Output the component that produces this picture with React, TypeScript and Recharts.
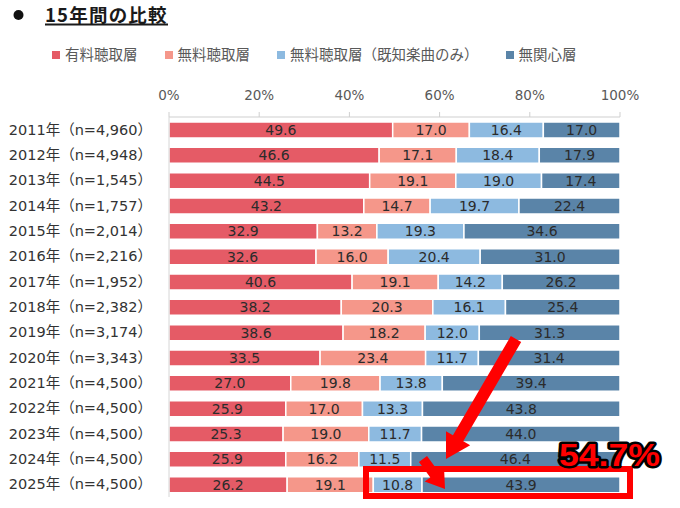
import React from 'react';
import { BarChart, Bar, XAxis, YAxis, LabelList } from 'recharts';

const years = ['2011年', '2012年', '2013年', '2014年', '2015年', '2016年', '2017年', '2018年', '2019年', '2020年', '2021年', '2022年', '2023年', '2024年', '2025年'];
const sampleSizes = ['4,960', '4,948', '1,545', '1,757', '2,014', '2,216', '1,952', '2,382', '3,174', '3,343', '4,500', '4,500', '4,500', '4,500', '4,500'];
const paidListeners = [49.6, 46.6, 44.5, 43.2, 32.9, 32.6, 40.6, 38.2, 38.6, 33.5, 27.0, 25.9, 25.3, 25.9, 26.2];
const freeListeners = [17.0, 17.1, 19.1, 14.7, 13.2, 16.0, 19.1, 20.3, 18.2, 23.4, 19.8, 17.0, 19.0, 16.2, 19.1];
const freeKnownOnly = [16.4, 18.4, 19.0, 19.7, 19.3, 20.4, 14.2, 16.1, 12.0, 11.7, 13.8, 13.3, 11.7, 11.5, 10.8];
const uninterested = [17.0, 17.9, 17.4, 22.4, 34.6, 31.0, 26.2, 25.4, 31.3, 31.4, 39.4, 43.8, 44.0, 46.4, 43.9];

const seriesKeys = ['s0', 's1', 's2', 's3'];
const seriesNames = ['有料聴取層', '無料聴取層', '無料聴取層（既知楽曲のみ）', '無関心層'];
const seriesColors = ['#E55B66', '#F5978A', '#8DBAE0', '#5A84A8'];
const seriesValues = [paidListeners, freeListeners, freeKnownOnly, uninterested];
const xTicks = [0, 20, 40, 60, 80, 100];

const titleText = '15年間の比較';
const calloutText = '54.7%';

const data = years.map((y, i) => {
  const row: Record<string, string | number> = { label: `${y}（n=${sampleSizes[i]}）` };
  seriesKeys.forEach((k, j) => {
    row[k] = seriesValues[j][i];
  });
  return row;
});

const FONT = "'DejaVu Sans', 'Noto Sans CJK JP', sans-serif";
const CJK = "'Noto Sans CJK JP', 'DejaVu Sans', sans-serif";

function arrowPoints(sx: number, sy: number, tx: number, ty: number, shaftHalf: number, headHalf: number, headLen: number) {
  const dx = tx - sx;
  const dy = ty - sy;
  const len = Math.sqrt(dx * dx + dy * dy);
  const ux = dx / len;
  const uy = dy / len;
  const nx = -uy;
  const ny = ux;
  const bx = tx - ux * headLen;
  const by = ty - uy * headLen;
  const pts = [
    [sx + nx * shaftHalf, sy + ny * shaftHalf],
    [bx + nx * shaftHalf, by + ny * shaftHalf],
    [bx + nx * headHalf, by + ny * headHalf],
    [tx, ty],
    [bx - nx * headHalf, by - ny * headHalf],
    [bx - nx * shaftHalf, by - ny * shaftHalf],
    [sx - nx * shaftHalf, sy - ny * shaftHalf],
  ];
  return pts.map((p) => p.join(',')).join(' ');
}

export default function App() {
  return (
    <div style={{ position: 'absolute', left: 0, top: 0, width: 680, height: 508, background: '#fff', overflow: 'hidden' }}>
      <BarChart
        width={680}
        height={508}
        data={data}
        layout="vertical"
        margin={{ top: 87, right: 60, bottom: 11, left: 0 }}
        barSize={16}
        style={{ fontFamily: FONT }}
      >
        <XAxis
          type="number"
          orientation="top"
          domain={[0, 100]}
          allowDataOverflow
          ticks={xTicks}
          tickFormatter={(v) => `${v}%`}
          height={30}
          axisLine={{ stroke: '#cfcfcf' }}
          tickLine={{ stroke: '#cfcfcf' }}
          tickSize={5}
          tickMargin={12}
          tick={{ fill: '#595959', fontSize: 13.5, fontFamily: FONT }}
        />
        <YAxis
          type="category"
          dataKey="label"
          width={169}
          axisLine={{ stroke: '#d6d6d6' }}
          tickLine={false}
          tickSize={0}
          tickMargin={17}
          interval={0}
          tick={{ fill: '#333333', fontSize: 14.5, fontFamily: FONT }}
        />
        {seriesKeys.map((k, j) => (
          <Bar key={k} dataKey={k} name={seriesNames[j]} stackId="a" fill={seriesColors[j]} stroke="#ffffff" strokeWidth={1.5} isAnimationActive={false}>
            <LabelList
              dataKey={k}
              position="center"
              formatter={(v: any) => Number(v).toFixed(1)}
              fill="#2b2b2b"
              stroke="none"
              fontSize={14}
              fontFamily={FONT}
            />
          </Bar>
        ))}
      </BarChart>

      <div style={{ position: 'absolute', left: 52, top: 43.5, height: 20, display: 'flex', alignItems: 'center', gap: 27, fontFamily: CJK, fontSize: 14.5, color: '#595959', whiteSpace: 'nowrap' }}>
        {seriesNames.map((n, j) => (
          <div key={n} style={{ display: 'flex', alignItems: 'center' }}>
            <span style={{ display: 'inline-block', width: 8, height: 8, background: seriesColors[j], marginRight: 5, marginTop: 3 }} />
            <span>{n}</span>
          </div>
        ))}
      </div>

      <svg width={680} height={508} style={{ position: 'absolute', left: 0, top: 0, pointerEvents: 'none' }}>
        <circle cx={18.5} cy={15} r={5} fill="#111" />
        <text x={45} y={21.5} fontFamily={CJK} fontWeight={700} fontSize={18.5} letterSpacing={1.2} fill="#1a1a1a">
          {titleText}
        </text>
        <line x1={45} y1={24.5} x2={168} y2={24.5} stroke="#1a1a1a" strokeWidth={2} />

        <polygon points={arrowPoints(516, 339, 446, 459, 6, 14, 24)} fill="#FF0000" />
        <polygon points={arrowPoints(423, 459, 445, 489, 5, 12, 18)} fill="#FF0000" />
        <rect x={366} y={469} width={264} height={27} fill="none" stroke="#FF0000" strokeWidth={6} />
        <text
          x={559}
          y={466}
          fontFamily="'Liberation Sans', Arial, sans-serif"
          fontWeight={700}
          fontSize={32}
          textLength={101}
          lengthAdjust="spacingAndGlyphs"
          fill="#FF0000"
          stroke="#000000"
          strokeWidth={5}
          strokeLinejoin="round"
          style={{ paintOrder: 'stroke' }}
        >
          {calloutText}
        </text>
      </svg>
    </div>
  );
}
